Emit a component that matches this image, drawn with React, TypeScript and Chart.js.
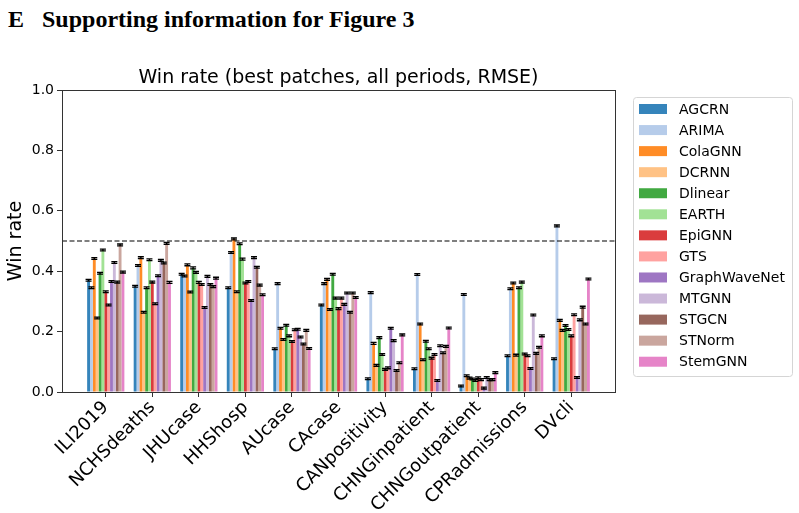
import { useEffect, useRef } from "react";
import { Chart, registerables } from "chart.js";

Chart.register(...registerables);

// Datasets (x-axis groups)
const categories = [
  "ILI2019",
  "NCHSdeaths",
  "JHUcase",
  "HHShosp",
  "AUcase",
  "CAcase",
  "CANpositivity",
  "CHNGinpatient",
  "CHNGoutpatient",
  "CPRadmissions",
  "DVcli",
];

// Win rate per model, one value per dataset above
const AGCRN = [0.370, 0.350, 0.390, 0.345, 0.143, 0.288, 0.044, 0.077, 0.020, 0.120, 0.110];
const ARIMA = [0.345, 0.419, 0.384, 0.462, 0.359, 0.359, 0.329, 0.389, 0.323, 0.342, 0.550];
const ColaGNN = [0.442, 0.445, 0.421, 0.507, 0.211, 0.373, 0.161, 0.225, 0.054, 0.361, 0.237];
const DCRNN = [0.245, 0.264, 0.331, 0.332, 0.174, 0.273, 0.088, 0.107, 0.046, 0.122, 0.204];
const Dlinear = [0.393, 0.345, 0.411, 0.491, 0.221, 0.390, 0.180, 0.168, 0.043, 0.345, 0.220];
const EARTH = [0.470, 0.438, 0.396, 0.440, 0.186, 0.311, 0.124, 0.143, 0.038, 0.364, 0.207];
const EpiGNN = [0.332, 0.364, 0.363, 0.361, 0.167, 0.276, 0.075, 0.112, 0.047, 0.126, 0.186];
const GTS = [0.288, 0.292, 0.356, 0.366, 0.206, 0.311, 0.080, 0.124, 0.041, 0.120, 0.256];
const GraphWaveNet = [0.366, 0.385, 0.280, 0.303, 0.208, 0.290, 0.211, 0.038, 0.013, 0.078, 0.048];
const MTGNN = [0.429, 0.436, 0.383, 0.445, 0.182, 0.328, 0.170, 0.153, 0.048, 0.255, 0.239];
const STGCN = [0.364, 0.427, 0.356, 0.413, 0.159, 0.264, 0.071, 0.130, 0.041, 0.128, 0.281];
const STNorm = [0.487, 0.492, 0.349, 0.354, 0.204, 0.328, 0.097, 0.151, 0.041, 0.148, 0.225];
const StemGNN = [0.397, 0.363, 0.377, 0.322, 0.144, 0.313, 0.189, 0.212, 0.064, 0.186, 0.374];

const seriesNames = [
  "AGCRN", "ARIMA", "ColaGNN", "DCRNN", "Dlinear", "EARTH", "EpiGNN",
  "GTS", "GraphWaveNet", "MTGNN", "STGCN", "STNorm", "StemGNN",
];
const seriesValues = [
  AGCRN, ARIMA, ColaGNN, DCRNN, Dlinear, EARTH, EpiGNN,
  GTS, GraphWaveNet, MTGNN, STGCN, STNorm, StemGNN,
];
const seriesColors = [
  "#1f77b4", "#aec7e8", "#ff7f0e", "#ffbb78", "#2ca02c", "#98df8a", "#d62728",
  "#ff9896", "#9467bd", "#c5b0d5", "#8c564b", "#c49c94", "#e377c2",
];

const yTicks = [0, 0.2, 0.4, 0.6, 0.8, 1.0];
const referenceLevel = 0.5;
const capSpread = 0.003;

const chartTitle = "Win rate (best patches, all periods, RMSE)";
const yTitle = "Win rate";

const FONT = "'DejaVu Sans', sans-serif";

function withAlpha(hex: string, a: number) {
  const n = parseInt(hex.slice(1), 16);
  return `rgba(${(n >> 16) & 255}, ${(n >> 8) & 255}, ${n & 255}, ${a})`;
}

// Frame, title, y title, 0.5 line, error caps and legend
const decorations = {
  id: "decorations",
  afterDatasetsDraw(chart: any) {
    const { ctx, chartArea, scales } = chart;
    const ys = scales.y;
    ctx.save();

    // dashed reference line
    const yr = ys.getPixelForValue(referenceLevel);
    ctx.strokeStyle = "#000";
    ctx.lineWidth = 1.2;
    ctx.setLineDash([5, 2.5]);
    ctx.beginPath();
    ctx.moveTo(chartArea.left, yr);
    ctx.lineTo(chartArea.right, yr);
    ctx.stroke();
    ctx.setLineDash([]);

    // error caps
    ctx.strokeStyle = "#000";
    ctx.lineWidth = 1.3;
    chart.data.datasets.forEach((ds: any, di: number) => {
      const meta = chart.getDatasetMeta(di);
      meta.data.forEach((bar: any, i: number) => {
        const v = ds.data[i].y;
        const yHi = ys.getPixelForValue(v + capSpread);
        const yLo = ys.getPixelForValue(v - capSpread);
        ctx.beginPath();
        ctx.moveTo(bar.x - 3, yHi);
        ctx.lineTo(bar.x + 3, yHi);
        ctx.moveTo(bar.x - 3, yLo);
        ctx.lineTo(bar.x + 3, yLo);
        ctx.moveTo(bar.x, yHi);
        ctx.lineTo(bar.x, yLo);
        ctx.stroke();
      });
    });

    // axes frame
    ctx.strokeStyle = "#333";
    ctx.lineWidth = 1;
    ctx.strokeRect(
      Math.round(chartArea.left) + 0.5,
      Math.round(chartArea.top) + 0.5,
      Math.round(chartArea.right - chartArea.left),
      Math.round(chartArea.bottom - chartArea.top)
    );

    // title
    ctx.fillStyle = "#000";
    ctx.font = `19px ${FONT}`;
    ctx.textAlign = "center";
    ctx.textBaseline = "middle";
    ctx.fillText(chartTitle, (chartArea.left + chartArea.right) / 2, 78);

    // y title
    ctx.save();
    ctx.translate(16, (chartArea.top + chartArea.bottom) / 2);
    ctx.rotate(-Math.PI / 2);
    ctx.fillText(yTitle, 0, 0);
    ctx.restore();

    // legend
    const lx = 633;
    const ly = 97;
    const lw = 159;
    const lh = 279;
    ctx.fillStyle = "#fff";
    ctx.strokeStyle = "#d5d5d5";
    ctx.lineWidth = 1;
    ctx.beginPath();
    ctx.roundRect(lx + 0.5, ly + 0.5, lw, lh, 3);
    ctx.fill();
    ctx.stroke();
    ctx.font = `14px ${FONT}`;
    ctx.textAlign = "left";
    ctx.textBaseline = "middle";
    seriesNames.forEach((name, i) => {
      const cy = 109 + i * 21.06;
      ctx.fillStyle = withAlpha(seriesColors[i], 0.9);
      ctx.fillRect(639, cy - 5, 28, 10);
      ctx.fillStyle = "#000";
      ctx.fillText(name, 679, cy + 1);
    });

    ctx.restore();
  },
};

export default function App() {
  const canvasRef = useRef<HTMLCanvasElement | null>(null);

  useEffect(() => {
    const canvas = canvasRef.current;
    if (!canvas) return;
    const chart = new Chart(canvas, {
      type: "bar",
      data: {
        datasets: seriesNames.map((name, si) => ({
          label: name,
          data: seriesValues[si].map((v, i) => ({ x: i, y: v })),
          backgroundColor: withAlpha(seriesColors[si], 0.9),
          borderWidth: 0,
          categoryPercentage: 0.8,
          barPercentage: 1.0,
        })),
      },
      plugins: [decorations],
      options: {
        responsive: false,
        animation: false,
        devicePixelRatio: 1,
        layout: { padding: { left: 0, right: 184, top: 90, bottom: 0 } },
        plugins: {
          legend: { display: false },
          title: { display: false },
          tooltip: { enabled: false },
        },
        scales: {
          x: {
            type: "linear",
            bounds: "data",
            min: -0.94,
            max: 10.94,
            offset: false,
            grid: {
              offset: false,
              drawOnChartArea: false,
              drawTicks: true,
              tickLength: 5,
              color: "#333",
            },
            border: { display: false },
            afterBuildTicks: (scale: any) => {
              scale.ticks = categories.map((_, i) => ({ value: i }));
            },
            afterFit: (scale: any) => {
              scale.height = 121;
            },
            ticks: {
              autoSkip: false,
              minRotation: 45,
              maxRotation: 45,
              padding: 0,
              color: "#000",
              font: { family: FONT, size: 18 },
              callback: (v: any) => categories[Math.round(Number(v))] ?? "",
            },
          },
          y: {
            type: "linear",
            min: 0,
            max: 1,
            afterBuildTicks: (scale: any) => {
              scale.ticks = yTicks.map((v) => ({ value: v }));
            },
            afterFit: (scale: any) => {
              scale.width = 62;
            },
            grid: {
              drawOnChartArea: false,
              drawTicks: true,
              tickLength: 5,
              color: "#333",
            },
            border: { display: false },
            ticks: {
              padding: 3,
              color: "#000",
              font: { family: FONT, size: 14 },
              callback: (v: any) => Number(v).toFixed(1),
            },
          },
        },
      },
    });
    return () => chart.destroy();
  }, []);

  return (
    <div
      style={{
        position: "fixed",
        left: 0,
        top: 0,
        width: 799,
        height: 513,
        background: "#fff",
        overflow: "hidden",
      }}
    >
      <div
        style={{
          position: "absolute",
          left: 8,
          top: 7,
          fontFamily: "'Liberation Serif', 'Times New Roman', serif",
          fontWeight: "bold",
          fontSize: 24,
          lineHeight: "24px",
          whiteSpace: "nowrap",
          color: "#000",
        }}
      >
        <span>E</span>
        <span style={{ marginLeft: 18 }}>Supporting information for Figure 3</span>
      </div>
      <canvas
        ref={canvasRef}
        width={799}
        height={513}
        style={{ position: "absolute", left: 0, top: 0, width: 799, height: 513 }}
      />
    </div>
  );
}
